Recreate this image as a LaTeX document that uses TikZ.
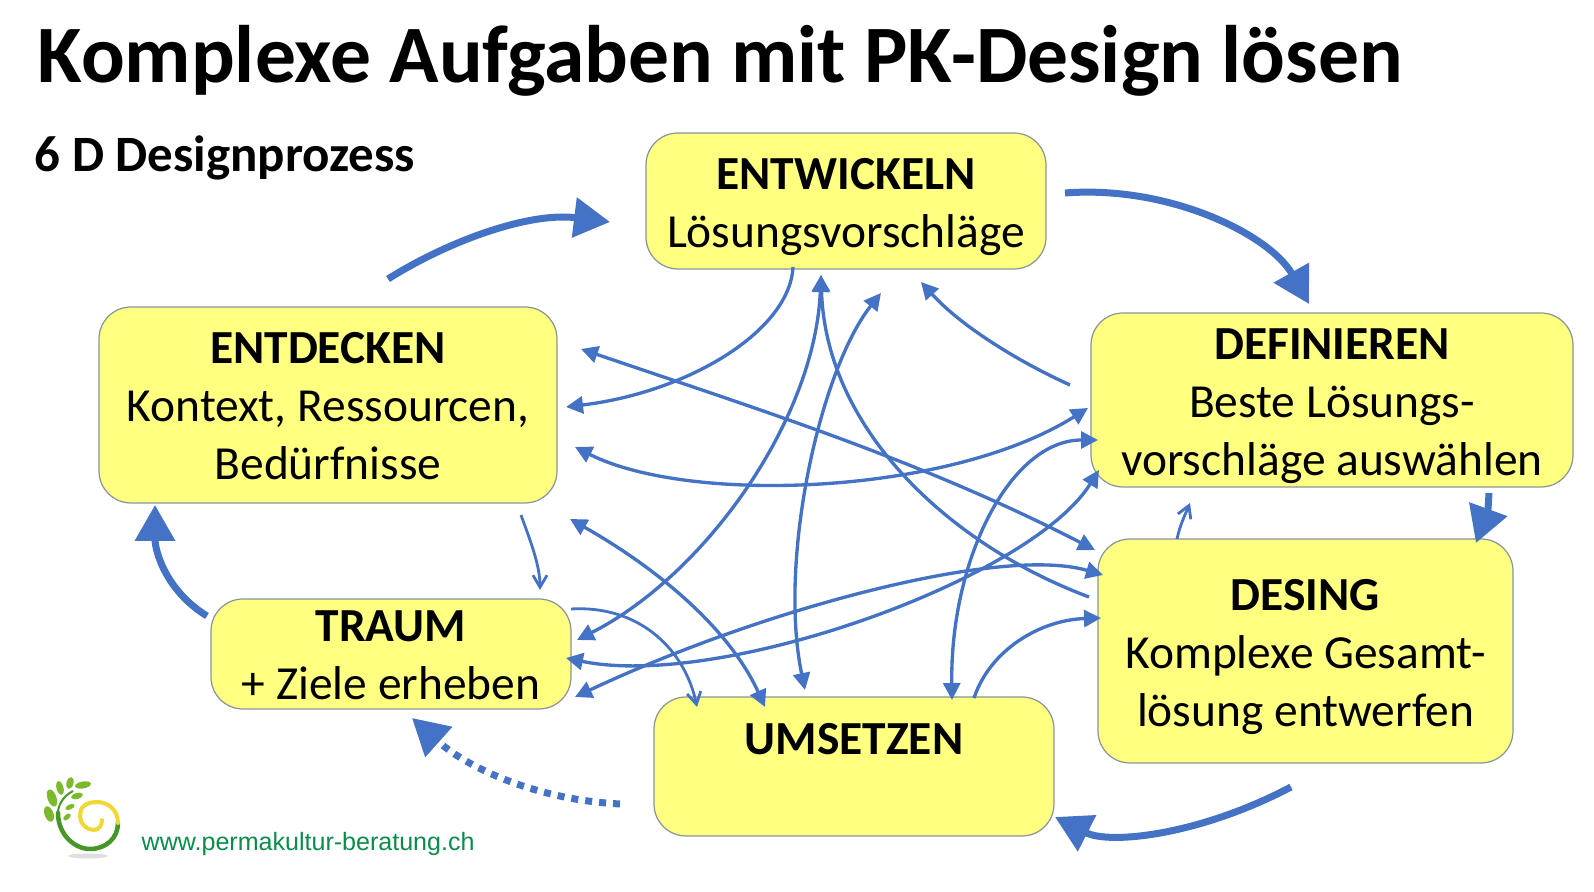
\documentclass[tikz,border=0pt]{standalone}
\usepackage{fontspec}
\setmainfont{Carlito}
\newfontfamily\urlfont{Liberation Sans}
\usetikzlibrary{positioning, arrows.meta}

\definecolor{boxyellow}{RGB}{255,255,128}
\definecolor{boxline}{RGB}{135,150,155}
\definecolor{linkblue}{RGB}{68,114,196}
\definecolor{urlgreen}{RGB}{10,140,75}
\definecolor{logogreen}{RGB}{70,150,40}
\definecolor{logoyellow}{RGB}{240,215,50}
\definecolor{leafgreen}{RGB}{125,185,45}

\newcommand{\firstline}[2]{\rule{0pt}{#1}\textbf{#2}}

\tikzset{
    box/.style={draw=boxline, line width=0.35pt, fill=boxyellow, rounded corners=3.2mm, align=center,
        outer sep=0pt, inner sep=0pt, font=\fontsize{13.5}{16.5}\selectfont},
    link/.style={linkblue, line width=0.95pt, -{Triangle[length=1.7mm,width=1.7mm]}},
    backlink/.style={linkblue, line width=0.95pt, {Triangle[length=1.7mm,width=1.7mm]}-},
    dlink/.style={linkblue, line width=0.95pt, {Triangle[length=1.7mm,width=1.7mm]}-{Triangle[length=1.7mm,width=1.7mm]}},
    thin link/.style={linkblue, line width=0.8pt, -{Straight Barb[length=1.2mm,width=1.4mm]}},
    big link/.style={linkblue, line width=0.7mm, -{Triangle[length=3.6mm,width=3.9mm]}},
    leaf/.style={leafgreen}
}

\begin{document}
\begin{tikzpicture}[x=0.1mm, y=-0.1mm]
        \useasboundingbox (0,0) rectangle (1594,892);

        %Titel
        \node[anchor=west, inner sep=0pt, font=\fontsize{23.2}{26}\selectfont\bfseries](title) at (37,61){Komplexe Aufgaben mit PK-Design lösen};
        \node[anchor=west, inner sep=0pt, font=\fontsize{14.5}{16}\selectfont\bfseries](subtitle) at (34,158){6 D Designprozess};

        %Kästen
        \node[box, minimum width=40mm, minimum height=13.6mm](entwickeln) at (846,201){\firstline{12.3pt}{ENTWICKELN}\\Lösungsvorschläge};
        \node[box, minimum width=45.8mm, minimum height=19.6mm, below left = 3.8mm and 8.9mm of entwickeln](entdecken){\firstline{9.4pt}{ENTDECKEN}\\Kontext, Ressourcen,\\Bedürfnisse};
        \node[box, minimum width=48.2mm, minimum height=17.4mm, below right = 4.4mm and 4.5mm of entwickeln](definieren){\firstline{12.1pt}{DEFINIEREN}\\Beste Lösungs-\\vorschläge auswählen};
        \node[box, minimum width=41.5mm, minimum height=22.4mm, below = 5.2mm of definieren, xshift=-2.65mm](desing){\firstline{12.1pt}{DESING}\\Komplexe Gesamt-\\lösung entwerfen};
        \node[box, minimum width=36mm, minimum height=11mm, below = 9.6mm of entdecken, xshift=6.3mm](traum){\firstline{9.6pt}{TRAUM}\\+ Ziele erheben};
        \node[box, minimum width=40mm, minimum height=13.9mm, below = 42.8mm of entwickeln, xshift=0.8mm](umsetzen){\firstline{9.4pt}{UMSETZEN}\\~};

        %Enden der dicken Pfeile
        \coordinate(a1) at (388,279);
        \coordinate(a2) at (610,222);
        \coordinate(b1) at (1065,193);
        \coordinate(b2) at (1309,304);
        \coordinate(c1) at (1489,493);
        \coordinate(c2) at (1476,543);
        \coordinate(d1) at (1291,787);
        \coordinate(d2) at (1055,817);
        \coordinate(e1) at (620,804);
        \coordinate(e2) at (412,718);
        \coordinate(f1) at (207,616);
        \coordinate(f2) at (155,505);

        %Enden der dünnen Pfeile
        \coordinate(l1) at (793,267);
        \coordinate(l2) at (566,407);
        \coordinate(l3) at (581,349);
        \coordinate(l4) at (1095,550);
        \coordinate(l5) at (821,275);
        \coordinate(l6) at (577,640);
        \coordinate(l7) at (821,275);
        \coordinate(l8) at (1089,597);
        \coordinate(l9) at (881,293);
        \coordinate(l10) at (805,690);
        \coordinate(l11) at (1070,385);
        \coordinate(l12) at (921,282);
        \coordinate(l13) at (575,447);
        \coordinate(l14) at (1088,408);
        \coordinate(l15) at (1098,440);
        \coordinate(l16) at (952,700);
        \coordinate(l17) at (1099,470);
        \coordinate(l18) at (566,658);
        \coordinate(l19) at (1103,575);
        \coordinate(l20) at (575,697);
        \coordinate(l21) at (974,698);
        \coordinate(l22) at (1101,618);
        \coordinate(l23) at (521,515);
        \coordinate(l24) at (540,590);
        \coordinate(l25) at (571,609);
        \coordinate(l26) at (697,707);
        \coordinate(l27) at (570,519);
        \coordinate(l28) at (765,707);
        \coordinate(l29) at (1177,539);
        \coordinate(l30) at (1190,503);

        %Dicke Pfeile
        \draw[big link](a1) .. controls (450,240) and (530,212) .. (a2);
        \draw[big link](b1) .. controls (1170,185) and (1270,235) .. (b2);
        \draw[big link](c1) .. controls (1488,510) .. (c2);
        \draw[big link](d1) .. controls (1200,835) and (1110,845) .. (d2);
        \draw[big link, dash pattern=on 0.7mm off 0.7mm](e1) .. controls (540,800) and (470,770) .. (e2);
        \draw[big link](f1) .. controls (165,590) and (155,550) .. (f2);

        %Dünne Pfeile
        \draw[link](l1) .. controls (790,330) and (690,392) .. (l2);
        \draw[dlink](l3) .. controls (760,410) and (920,460) .. (l4);
        \draw[dlink](l5) .. controls (815,420) and (705,575) .. (l6);
        \draw[backlink](l7) .. controls (826,430) and (950,545) .. (l8);
        \draw[dlink](l9) .. controls (820,370) and (778,560) .. (l10);
        \draw[link](l11) .. controls (1015,360) and (960,325) .. (l12);
        \draw[dlink](l13) .. controls (690,505) and (950,495) .. (l14);
        \draw[dlink](l15) .. controls (1010,440) and (950,560) .. (l16);
        \draw[dlink](l17) .. controls (1030,580) and (720,690) .. (l18);
        \draw[dlink](l19) .. controls (1000,545) and (760,610) .. (l20);
        \draw[link](l21) .. controls (990,650) and (1040,620) .. (l22);
        \draw[thin link](l23) .. controls (530,540) and (540,565) .. (l24);
        \draw[thin link](l25) .. controls (640,605) and (685,650) .. (l26);
        \draw[dlink](l27) .. controls (660,570) and (730,630) .. (l28);
        \draw[thin link](l29) .. controls (1180,525) and (1185,515) .. (l30);

        %Logo
        \fill[gray!25] (88,856) ellipse (20 and 2.5);
        \draw[logogreen, line width=0.2mm] (73,791) .. controls (62,797) and (58,806) .. (58,813);
        \draw[logogreen, line width=0.45mm, line cap=round] (58,813) .. controls (58,835) and (75,849) .. (90,849) .. controls (106,849) and (118,838) .. (118,823);
        \draw[logoyellow, line width=0.4mm, line cap=round] (118,823) .. controls (118,810) and (108,802) .. (97,802) .. controls (85,802) and (80,808) .. (80,815) .. controls (80,825) and (88,830) .. (94,830) .. controls (99,830) and (102,825) .. (102,820);
        \fill[leaf, rotate around={20:(52,798)}] (52,798) ellipse (4.5 and 9);
        \fill[leaf, rotate around={20:(49,814)}] (49,814) ellipse (4.5 and 8);
        \fill[leaf, rotate around={15:(60,788)}] (60,788) ellipse (3.5 and 7);
        \fill[leaf, rotate around={-15:(70,783)}] (70,783) ellipse (3.5 and 6);
        \fill[leaf, rotate around={-80:(83,785)}] (83,785) ellipse (3.5 and 8);
        \fill[leaf, rotate around={-75:(77,796)}] (77,796) ellipse (3 and 6);
        \fill[leaf, rotate around={-65:(70,807)}] (70,807) ellipse (2.5 and 5);
        \fill[leaf, rotate around={-50:(67,817)}] (67,817) ellipse (2.5 and 4.5);
        \node[anchor=west, text=urlgreen, font=\fontsize{7.13}{8}\selectfont\urlfont, inner sep=0pt](url) at (141,844){www.permakultur-beratung.ch};

    \end{tikzpicture}
\end{document}
